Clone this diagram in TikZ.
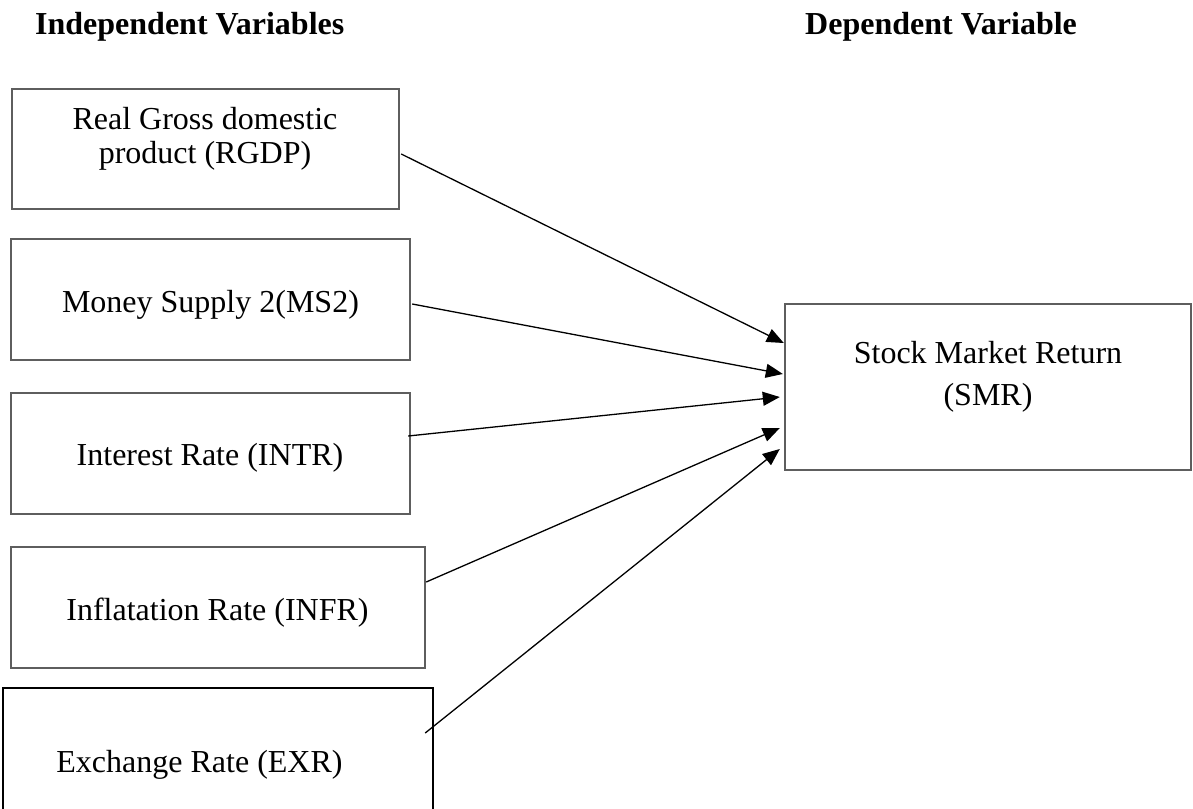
\documentclass[tikz,border=0pt]{standalone}
\usepackage{fontspec}
\setmainfont{Liberation Serif}
\usetikzlibrary{arrows.meta,calc}
\definecolor{boxgray}{HTML}{5E5E5E}
\tikzset{
  box/.style={draw=boxgray, line width=2.4pt, fill=none, inner sep=0pt},
  blackbox/.style={draw=black, line width=2.4pt, fill=none, inner sep=0pt},
  txt/.style={anchor=base, inner sep=0pt, font=\fontsize{32}{38}\selectfont},
  head/.style={anchor=base west, inner sep=0pt, font=\fontsize{32}{38}\selectfont\bfseries},
  conn/.style={draw=black, line width=1.3pt, -{Triangle[length=17pt,width=14pt]}}
}
\begin{document}
\begin{tikzpicture}[x=1pt,y=-1pt]
\useasboundingbox (0,0) rectangle (1193,808);
\clip (0,0) rectangle (1193,808);
% headers
\node[head] (hind) at (35,35) {Independent Variables};
\node[head] (hdep) at (805,35) {Dependent Variable};
% boxes
\node[box, minimum width=387pt, minimum height=120pt] (rgdp) at (205.5,149) {};
\node[box, minimum width=399pt, minimum height=121pt] (ms2) at (210.5,299.5) {};
\node[box, minimum width=399pt, minimum height=121pt] (intr) at (210.5,453.5) {};
\node[box, minimum width=414pt, minimum height=121pt] (infr) at (218,607.5) {};
\node[blackbox, minimum width=430pt, minimum height=130pt] (exr) at (218,753) {};
\node[box, minimum width=406pt, minimum height=166pt] (smr) at (988,387) {};
% texts
\node[txt] (rgdp-t1) at (205,129) {Real Gross domestic};
\node[txt] (rgdp-t2) at (205,163) {product (RGDP)};
\node[txt] (ms2-t) at (210.5,312) {Money Supply 2(MS2)};
\node[txt] (intr-t) at (210,465) {Interest Rate (INTR)};
\node[txt] (infr-t) at (217.5,620) {Inflatation Rate (INFR)};
\node[txt] (exr-t) at (199.5,772) {Exchange Rate (EXR)};
\node[txt] (smr-t1) at (988,363) {Stock Market Return};
\node[txt] (smr-t2) at (988,405) {(SMR)};
% connectors
\draw[conn] ($(rgdp.east)+(1,5)$) -- ($(smr.west)+(0,-44)$);
\draw[conn] ($(ms2.east)+(1,4.5)$) -- ($(smr.west)+(-1,-13)$);
\draw[conn] ($(intr.east)+(-3,-17.5)$) -- ($(smr.west)+(-4,10)$);
\draw[conn] ($(infr.east)+(0,-25.5)$) -- ($(smr.west)+(-4,41)$);
\draw[conn] ($(exr.east)+(-9,-20)$) -- ($(smr.west)+(-4,62)$);
\end{tikzpicture}
\end{document}
